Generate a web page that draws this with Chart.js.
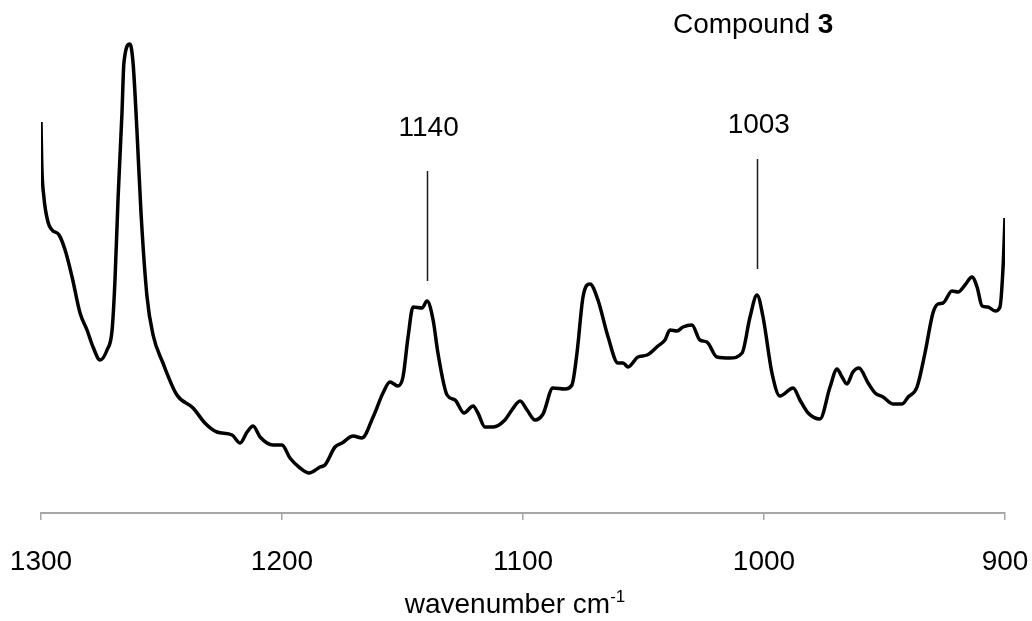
<!DOCTYPE html>
<html>
<head>
<meta charset="utf-8">
<title>Compound 3 spectrum</title>
<script src="https://cdn.jsdelivr.net/npm/chart.js@4/dist/chart.umd.min.js"></script>
<style>
  html, body { margin: 0; padding: 0; background: #fff; }
  #wrap { width: 1032px; height: 621px; position: relative; }
</style>
</head>
<body>
<div id="wrap"><canvas id="spectrum-chart"></canvas></div>
<script>
// spectrum (wavenumber in cm-1, intensity in arbitrary units)
const wavenumbers = [
  1300, 1299.7, 1298.8, 1297.1, 1295.4, 1292.5, 1290.0, 1287.1, 1283.8, 1280.9,
  1278.4, 1275.5, 1272.6, 1270.5, 1269.3, 1268.0, 1266.4, 1265.6, 1263.1, 1261.8,
  1260.2, 1258.5, 1256.0, 1253.5, 1249.4, 1243.6, 1236.9, 1232.0, 1227.0, 1220.7,
  1217.4, 1214.5, 1212.0, 1209.1, 1203.7, 1200.0, 1196.7, 1192.5, 1188.8, 1184.2,
  1182.2, 1178.0, 1175.1, 1170.5, 1166.8, 1162.2, 1158.1, 1155.2, 1151.9, 1149.8,
  1147.7, 1145.6, 1141.9, 1139.8, 1137.3, 1135.3, 1131.5, 1128.2, 1124.5, 1120.7,
  1118.7, 1115.8, 1112.4, 1107.5, 1104.6, 1101.2, 1098.3, 1095.0, 1091.7, 1087.6,
  1082.6, 1079.7, 1077.6, 1075.1, 1072.2, 1068.9, 1064.7, 1060.6, 1058.5, 1056.4,
  1052.3, 1048.5, 1044.0, 1041.1, 1039.0, 1036.1, 1033.6, 1029.9, 1026.6, 1023.7,
  1019.5, 1014.1, 1009.1, 1005.8, 1002.9, 1000.4, 996.7, 993.4, 987.9, 985.1,
  981.7, 976.8, 972.6, 969.7, 967.6, 965.6, 963.1, 960.6, 956.8, 953.9,
  950.6, 946.5, 942.7, 940.2, 936.5, 933.2, 929.9, 927.8, 925.7, 922.0,
  919.5, 916.6, 913.7, 911.6, 909.5, 907.1, 904.1, 902.1, 900.8, 900.0
];
const intensity = [
  391, 350, 316, 291, 283, 278, 263, 236, 200, 183,
  166, 153, 163, 183, 233, 316, 400, 450, 469, 450,
  383, 300, 216, 178, 150, 118, 105, 90, 81, 78,
  70, 81, 87, 76, 68, 68, 55, 45, 40, 46,
  48, 66, 70, 77, 75, 96, 120, 131, 127, 136,
  176, 206, 205, 212, 193, 160, 118, 113, 100, 107,
  100, 86, 86, 93, 103, 112, 103, 93, 99, 125,
  124, 128, 160, 216, 229, 213, 176, 150, 150, 146,
  156, 158, 167, 173, 183, 182, 186, 188, 173, 171,
  156, 155, 160, 196, 218, 196, 140, 117, 125, 113,
  100, 94, 126, 144, 136, 129, 141, 145, 130, 120,
  116, 109, 109, 116, 126, 160, 200, 209, 210, 222,
  221, 228, 236, 226, 207, 206, 202, 206, 246, 295
];
const xTicks = [1300, 1200, 1100, 1000, 900];

// marked peaks
const peakPositions = [1140, 1003];
const peakLabels = ["1140", "1003"];

const FONT = "'Liberation Sans', Arial, sans-serif";

/* ============================================= */
/*        marker lines, peak labels, titles      */
/* ============================================= */
const markerPlugin = {
  id: "markers",
  afterDraw(chart) {
    const ctx = chart.ctx;
    const x = chart.scales.x;
    const y = chart.scales.y;
    const lineTop = [342, 354];
    const lineBottom = [232, 244];
    const textBase = [377, 380];

    ctx.save();
    ctx.strokeStyle = "#1a1a1a";
    ctx.lineWidth = 1.5;
    ctx.fillStyle = "#000";
    ctx.font = "28px " + FONT;
    ctx.textAlign = "center";
    ctx.textBaseline = "alphabetic";
    peakPositions.forEach((p, i) => {
      const px = Math.round(x.getPixelForValue(p)) + 0.5;
      ctx.beginPath();
      ctx.moveTo(px, y.getPixelForValue(lineTop[i]));
      ctx.lineTo(px, y.getPixelForValue(lineBottom[i]));
      ctx.stroke();
      ctx.fillText(peakLabels[i], x.getPixelForValue(p) + 2, y.getPixelForValue(textBase[i]));
    });

    // "Compound 3" with bold number
    ctx.textAlign = "left";
    ctx.font = "28px " + FONT;
    const word = "Compound ";
    ctx.fillText(word, 673, 33);
    const w = ctx.measureText(word).width;
    ctx.font = "bold 28px " + FONT;
    ctx.fillText("3", 673 + w, 33);

    // axis title with superscript
    ctx.font = "28px " + FONT;
    const main = "wavenumber cm";
    const mw = ctx.measureText(main).width;
    ctx.font = "17px " + FONT;
    const sw = ctx.measureText("-1").width;
    const start = 515 - (mw + sw) / 2;
    ctx.font = "28px " + FONT;
    ctx.fillText(main, start, 613);
    ctx.font = "17px " + FONT;
    ctx.fillText("-1", start + mw, 602);
    ctx.restore();
  }
};

const spectrumChart = new Chart(document.querySelector("#spectrum-chart"), {
  type: "line",
  data: {
    datasets: [
      {
        label: "Compound 3",
        data: wavenumbers.map((wn, i) => ({ x: wn, y: intensity[i] })),
        borderColor: "#000",
        borderWidth: 3.5,
        pointRadius: 0,
        fill: false,
        cubicInterpolationMode: "monotone",
      },
    ],
  },
  options: {
    responsive: true,
    maintainAspectRatio: false,
    animation: false,
    layout: {
      padding: { left: 41, right: 27, top: 30, bottom: 0 },
    },
    plugins: {
      legend: { display: false },
      tooltip: { enabled: false },
    },
    scales: {
      x: {
        type: "linear",
        reverse: true,
        min: 900,
        max: 1300,
        afterBuildTicks: (scale) => {
          scale.ticks = xTicks.map((v) => ({ value: v }));
        },
        afterFit: (scale) => {
          scale.height = 621 - 513;
          scale.paddingLeft = 0;
          scale.paddingRight = 0;
        },
        grid: {
          drawOnChartArea: false,
          drawTicks: true,
          tickLength: 7,
          color: "#a6a6a6",
          lineWidth: 1.5,
        },
        border: { display: true, color: "#a6a6a6", width: 2 },
        ticks: {
          color: "#000",
          padding: 25,
          maxRotation: 0,
          autoSkip: false,
          font: { family: FONT, size: 28 },
          callback: (v) => String(v),
        },
        title: { display: false },
      },
      y: {
        display: false,
        min: 0,
        max: 483,
      },
    },
  },
  plugins: [markerPlugin],
});
</script>
</body>
</html>
